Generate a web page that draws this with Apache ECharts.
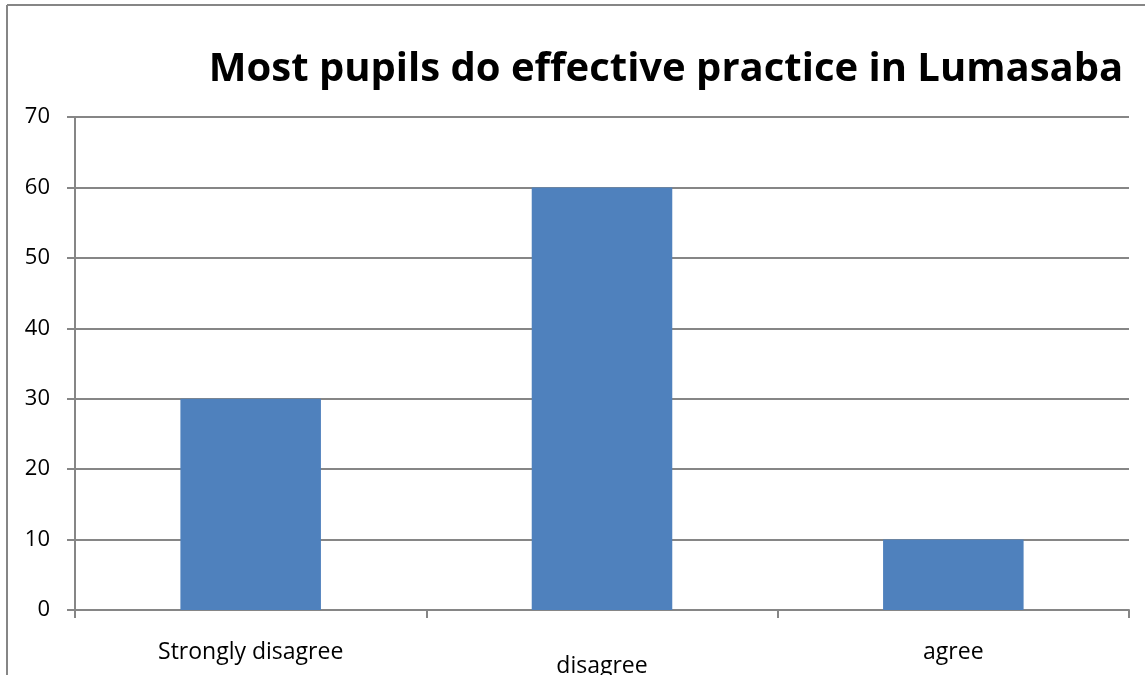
<!DOCTYPE html>
<html>
<head>
<meta charset="utf-8">
<script src="https://cdn.jsdelivr.net/npm/echarts@6/dist/echarts.min.js"></script>
<style>html,body{margin:0;padding:0;background:#fff;}#c{width:1145px;height:675px;}</style>
</head>
<body>
<div id="c"></div>
<script>
const titleText = 'Most pupils do effective practice in Lumasaba';
const categories = ['Strongly disagree', 'disagree', 'agree'];
const values = [30, 60, 10];
const yTicks = [0, 10, 20, 30, 40, 50, 60, 70];

const chart = echarts.init(document.getElementById('c'));
const font = 'Open Sans';
chart.setOption({
  backgroundColor: '#ffffff',
  animation: false,
  title: {
    text: titleText,
    left: 661, top: 45, textAlign: 'center',
    textStyle: { fontFamily: font, fontWeight: 'bold', fontSize: 40, color: '#000' }
  },
  graphic: [
    { type: 'line', shape: { x1: 7, y1: 5, x2: 1145, y2: 5 }, style: { stroke: '#868686', lineWidth: 2 } },
    { type: 'line', shape: { x1: 7, y1: 5, x2: 7, y2: 675 }, style: { stroke: '#868686', lineWidth: 2 } }
  ],
  grid: { left: 75, right: 16, top: 117, bottom: 65, containLabel: false, outerBoundsMode: 'none' },
  xAxis: {
    type: 'category',
    data: categories,
    axisLine: { lineStyle: { color: '#868686', width: 2 } },
    axisTick: { show: true, length: 8, lineStyle: { color: '#868686', width: 2 } },
    axisLabel: {
      fontFamily: font, fontSize: 23, color: '#000', margin: 31,
      formatter: function (v) { return v === 'disagree' ? '{low|' + v + '}' : '{n|' + v + '}'; },
      rich: {
        n: { fontFamily: font, fontSize: 23, color: '#000' },
        low: { fontFamily: font, fontSize: 23, color: '#000', padding: [14, 0, 0, 0] }
      }
    }
  },
  yAxis: {
    type: 'value',
    min: yTicks[0], max: yTicks[yTicks.length - 1], interval: 10,
    axisLine: { show: true, lineStyle: { color: '#868686', width: 2 } },
    axisTick: { show: true, length: 8, lineStyle: { color: '#868686', width: 2 } },
    splitLine: { lineStyle: { color: '#868686', width: 2 } },
    axisLabel: { fontFamily: font, fontSize: 22, color: '#000', margin: 25, padding: [6, 0, 0, 0] }
  },
  series: [{
    type: 'bar',
    data: values,
    barWidth: '40%',
    itemStyle: { color: '#4F81BD' }
  }]
});
</script>
</body>
</html>
